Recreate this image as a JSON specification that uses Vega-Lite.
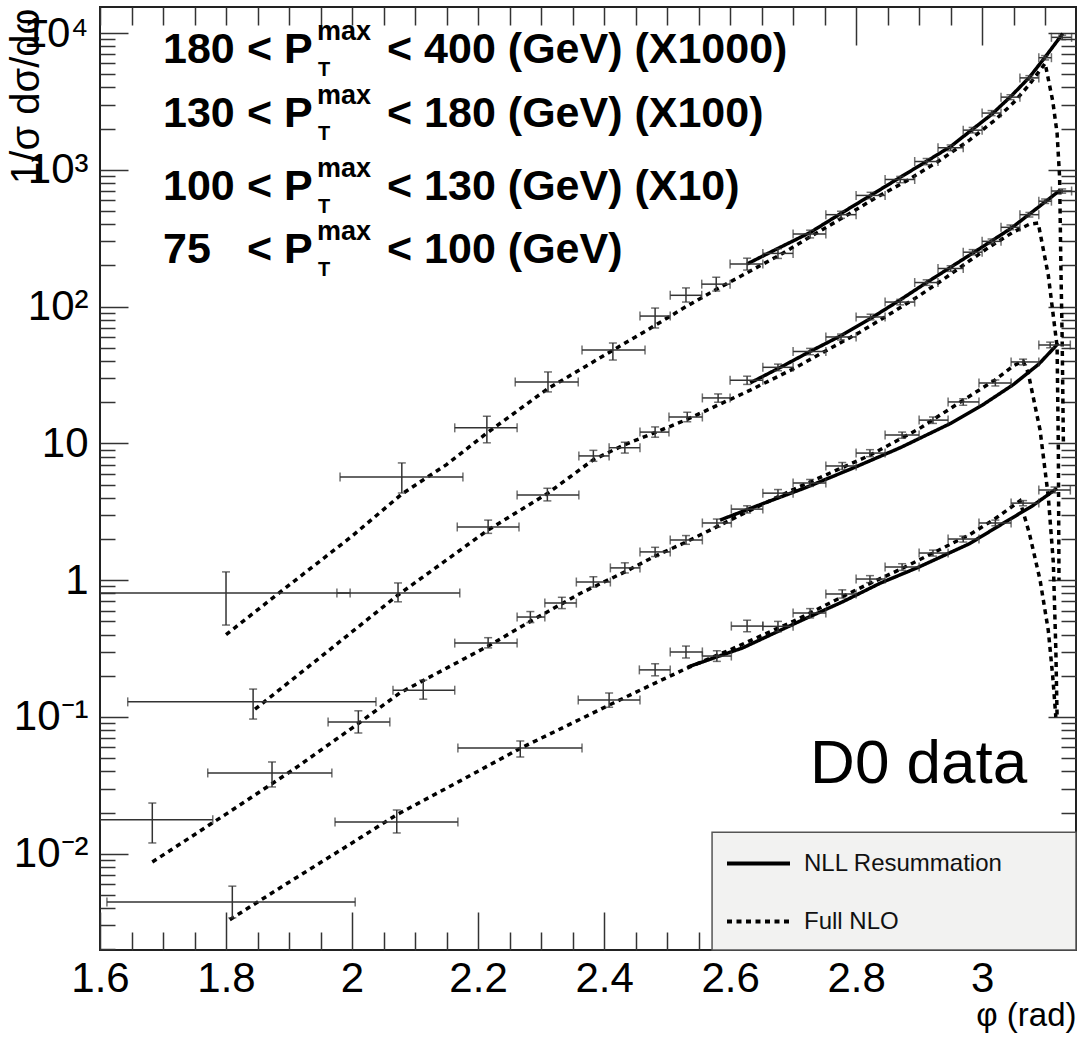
{
  "$schema": "https://vega.github.io/schema/vega-lite/v6.json",
  "width": 976,
  "height": 943,
  "autosize": {"type": "none"},
  "padding": {"left": 100, "top": 7, "right": 4, "bottom": 87},
  "background": "white",
  "config": {
    "view": {"stroke": "#222", "strokeWidth": 2},
    "font": "Liberation Sans",
    "axis": {"labelFont": "Liberation Sans", "titleFont": "Liberation Sans", "labelColor": "#000", "titleColor": "#000", "tickColor": "#333", "tickWidth": 1.5, "domain": false, "grid": false, "labelFlush": false, "labelOverlap": false, "labelBound": false}
  },
  "datasets": {
    "pts": [
      {"series":"A","phi":1.8,"value":0.805,"phiLo":1.6,"phiHi":1.997,"valueLo":0.47,"valueHi":1.15},
      {"series":"A","phi":2.079,"value":5.68,"phiLo":1.981,"phiHi":2.176,"valueLo":4.34,"valueHi":7.2},
      {"series":"A","phi":2.214,"value":13.0,"phiLo":2.163,"phiHi":2.262,"valueLo":10.1,"valueHi":15.8},
      {"series":"A","phi":2.311,"value":28.1,"phiLo":2.259,"phiHi":2.359,"valueLo":23.8,"valueHi":33.3},
      {"series":"A","phi":2.414,"value":48.2,"phiLo":2.365,"phiHi":2.465,"valueLo":40.7,"valueHi":54.2},
      {"series":"A","phi":2.481,"value":85.3,"phiLo":2.457,"phiHi":2.505,"valueLo":69.8,"valueHi":97.6},
      {"series":"A","phi":2.53,"value":121,"phiLo":2.505,"phiHi":2.555,"valueLo":108,"valueHi":137},
      {"series":"A","phi":2.578,"value":146,"phiLo":2.555,"phiHi":2.6,"valueLo":130,"valueHi":164},
      {"series":"A","phi":2.627,"value":205,"phiLo":2.6,"phiHi":2.652,"valueLo":185,"valueHi":226},
      {"series":"A","phi":2.676,"value":245,"phiLo":2.652,"phiHi":2.7,"valueLo":225,"valueHi":265},
      {"series":"A","phi":2.727,"value":340,"phiLo":2.7,"phiHi":2.752,"valueLo":318,"valueHi":362},
      {"series":"A","phi":2.776,"value":470,"phiLo":2.752,"phiHi":2.8,"valueLo":442,"valueHi":498},
      {"series":"A","phi":2.823,"value":650,"phiLo":2.8,"phiHi":2.846,"valueLo":615,"valueHi":685},
      {"series":"A","phi":2.87,"value":850,"phiLo":2.846,"phiHi":2.893,"valueLo":805,"valueHi":895},
      {"series":"A","phi":2.912,"value":1150,"phiLo":2.893,"phiHi":2.93,"valueLo":1090,"valueHi":1210},
      {"series":"A","phi":2.95,"value":1450,"phiLo":2.93,"phiHi":2.97,"valueLo":1380,"valueHi":1520},
      {"series":"A","phi":2.985,"value":1950,"phiLo":2.97,"phiHi":3.0,"valueLo":1860,"valueHi":2040},
      {"series":"A","phi":3.015,"value":2600,"phiLo":3.0,"phiHi":3.03,"valueLo":2490,"valueHi":2710},
      {"series":"A","phi":3.045,"value":3400,"phiLo":3.03,"phiHi":3.06,"valueLo":3260,"valueHi":3540},
      {"series":"A","phi":3.075,"value":4700,"phiLo":3.06,"phiHi":3.09,"valueLo":4520,"valueHi":4880},
      {"series":"A","phi":3.1,"value":6600,"phiLo":3.09,"phiHi":3.11,"valueLo":6360,"valueHi":6840},
      {"series":"A","phi":3.127,"value":9300,"phiLo":3.11,"phiHi":3.142,"valueLo":8950,"valueHi":9650},
      {"series":"B","phi":1.843,"value":0.129,"phiLo":1.644,"phiHi":2.038,"valueLo":0.0966,"valueHi":0.16},
      {"series":"B","phi":2.073,"value":0.805,"phiLo":1.976,"phiHi":2.171,"valueLo":0.695,"valueHi":0.955},
      {"series":"B","phi":2.216,"value":2.45,"phiLo":2.167,"phiHi":2.265,"valueLo":2.2,"valueHi":2.75},
      {"series":"B","phi":2.31,"value":4.2,"phiLo":2.262,"phiHi":2.36,"valueLo":3.8,"valueHi":4.7},
      {"series":"B","phi":2.383,"value":8.1,"phiLo":2.36,"phiHi":2.408,"valueLo":7.4,"valueHi":8.9},
      {"series":"B","phi":2.433,"value":9.3,"phiLo":2.408,"phiHi":2.457,"valueLo":8.5,"valueHi":10.2},
      {"series":"B","phi":2.481,"value":12.1,"phiLo":2.457,"phiHi":2.503,"valueLo":11.1,"valueHi":13.2},
      {"series":"B","phi":2.532,"value":15.6,"phiLo":2.503,"phiHi":2.556,"valueLo":14.4,"valueHi":16.9},
      {"series":"B","phi":2.581,"value":21.5,"phiLo":2.556,"phiHi":2.6,"valueLo":20,"valueHi":23},
      {"series":"B","phi":2.627,"value":29,"phiLo":2.6,"phiHi":2.652,"valueLo":27,"valueHi":31},
      {"series":"B","phi":2.676,"value":36,"phiLo":2.652,"phiHi":2.7,"valueLo":34,"valueHi":38},
      {"series":"B","phi":2.727,"value":47,"phiLo":2.7,"phiHi":2.752,"valueLo":44.5,"valueHi":49.5},
      {"series":"B","phi":2.776,"value":60,"phiLo":2.752,"phiHi":2.8,"valueLo":57,"valueHi":63},
      {"series":"B","phi":2.823,"value":84,"phiLo":2.8,"phiHi":2.846,"valueLo":80,"valueHi":88},
      {"series":"B","phi":2.87,"value":108,"phiLo":2.846,"phiHi":2.893,"valueLo":103,"valueHi":113},
      {"series":"B","phi":2.912,"value":150,"phiLo":2.893,"phiHi":2.93,"valueLo":143,"valueHi":157},
      {"series":"B","phi":2.95,"value":190,"phiLo":2.93,"phiHi":2.97,"valueLo":181,"valueHi":199},
      {"series":"B","phi":2.985,"value":250,"phiLo":2.97,"phiHi":3.0,"valueLo":239,"valueHi":261},
      {"series":"B","phi":3.015,"value":300,"phiLo":3.0,"phiHi":3.03,"valueLo":288,"valueHi":312},
      {"series":"B","phi":3.045,"value":380,"phiLo":3.03,"phiHi":3.06,"valueLo":365,"valueHi":395},
      {"series":"B","phi":3.075,"value":470,"phiLo":3.06,"phiHi":3.09,"valueLo":452,"valueHi":488},
      {"series":"B","phi":3.1,"value":590,"phiLo":3.09,"phiHi":3.11,"valueLo":568,"valueHi":612},
      {"series":"B","phi":3.127,"value":700,"phiLo":3.11,"phiHi":3.142,"valueLo":675,"valueHi":725},
      {"series":"C","phi":1.683,"value":0.0177,"phiLo":1.6,"phiHi":1.779,"valueLo":0.012,"valueHi":0.0235},
      {"series":"C","phi":1.873,"value":0.039,"phiLo":1.771,"phiHi":1.968,"valueLo":0.0308,"valueHi":0.0469},
      {"series":"C","phi":2.01,"value":0.092,"phiLo":1.962,"phiHi":2.06,"valueLo":0.0764,"valueHi":0.111},
      {"series":"C","phi":2.113,"value":0.157,"phiLo":2.065,"phiHi":2.163,"valueLo":0.135,"valueHi":0.186},
      {"series":"C","phi":2.216,"value":0.347,"phiLo":2.163,"phiHi":2.262,"valueLo":0.32,"valueHi":0.38},
      {"series":"C","phi":2.283,"value":0.538,"phiLo":2.262,"phiHi":2.306,"valueLo":0.49,"valueHi":0.59},
      {"series":"C","phi":2.333,"value":0.68,"phiLo":2.306,"phiHi":2.356,"valueLo":0.62,"valueHi":0.75},
      {"series":"C","phi":2.383,"value":0.97,"phiLo":2.356,"phiHi":2.41,"valueLo":0.89,"valueHi":1.06},
      {"series":"C","phi":2.433,"value":1.23,"phiLo":2.41,"phiHi":2.457,"valueLo":1.13,"valueHi":1.34},
      {"series":"C","phi":2.481,"value":1.61,"phiLo":2.457,"phiHi":2.505,"valueLo":1.49,"valueHi":1.74},
      {"series":"C","phi":2.53,"value":1.97,"phiLo":2.505,"phiHi":2.556,"valueLo":1.83,"valueHi":2.12},
      {"series":"C","phi":2.579,"value":2.62,"phiLo":2.556,"phiHi":2.602,"valueLo":2.45,"valueHi":2.8},
      {"series":"C","phi":2.627,"value":3.31,"phiLo":2.602,"phiHi":2.652,"valueLo":3.1,"valueHi":3.5},
      {"series":"C","phi":2.676,"value":4.33,"phiLo":2.652,"phiHi":2.7,"valueLo":4.05,"valueHi":4.6},
      {"series":"C","phi":2.727,"value":5.14,"phiLo":2.7,"phiHi":2.752,"valueLo":4.85,"valueHi":5.45},
      {"series":"C","phi":2.778,"value":6.84,"phiLo":2.752,"phiHi":2.8,"valueLo":6.45,"valueHi":7.25},
      {"series":"C","phi":2.822,"value":8.5,"phiLo":2.8,"phiHi":2.846,"valueLo":8.0,"valueHi":9.0},
      {"series":"C","phi":2.873,"value":11.5,"phiLo":2.846,"phiHi":2.9,"valueLo":10.9,"valueHi":12.1},
      {"series":"C","phi":2.922,"value":14.8,"phiLo":2.9,"phiHi":2.946,"valueLo":14.0,"valueHi":15.6},
      {"series":"C","phi":2.97,"value":20.1,"phiLo":2.946,"phiHi":2.995,"valueLo":19,"valueHi":21.2},
      {"series":"C","phi":3.021,"value":27.7,"phiLo":2.995,"phiHi":3.046,"valueLo":26.3,"valueHi":29.1},
      {"series":"C","phi":3.065,"value":39.4,"phiLo":3.046,"phiHi":3.09,"valueLo":37.5,"valueHi":41.3},
      {"series":"C","phi":3.108,"value":52.4,"phiLo":3.09,"phiHi":3.14,"valueLo":50,"valueHi":55},
      {"series":"D","phi":1.81,"value":0.00445,"phiLo":1.611,"phiHi":2.005,"valueLo":0.0034,"valueHi":0.0058},
      {"series":"D","phi":2.071,"value":0.0171,"phiLo":1.973,"phiHi":2.168,"valueLo":0.0142,"valueHi":0.0209},
      {"series":"D","phi":2.267,"value":0.0593,"phiLo":2.168,"phiHi":2.365,"valueLo":0.051,"valueHi":0.0668},
      {"series":"D","phi":2.408,"value":0.133,"phiLo":2.359,"phiHi":2.457,"valueLo":0.118,"valueHi":0.15},
      {"series":"D","phi":2.481,"value":0.221,"phiLo":2.456,"phiHi":2.505,"valueLo":0.2,"valueHi":0.245},
      {"series":"D","phi":2.53,"value":0.299,"phiLo":2.505,"phiHi":2.556,"valueLo":0.27,"valueHi":0.33},
      {"series":"D","phi":2.579,"value":0.279,"phiLo":2.556,"phiHi":2.602,"valueLo":0.255,"valueHi":0.305},
      {"series":"D","phi":2.627,"value":0.462,"phiLo":2.602,"phiHi":2.652,"valueLo":0.42,"valueHi":0.51},
      {"series":"D","phi":2.676,"value":0.46,"phiLo":2.652,"phiHi":2.7,"valueLo":0.42,"valueHi":0.5},
      {"series":"D","phi":2.727,"value":0.575,"phiLo":2.7,"phiHi":2.752,"valueLo":0.53,"valueHi":0.62},
      {"series":"D","phi":2.778,"value":0.793,"phiLo":2.752,"phiHi":2.8,"valueLo":0.74,"valueHi":0.85},
      {"series":"D","phi":2.822,"value":1.02,"phiLo":2.8,"phiHi":2.846,"valueLo":0.96,"valueHi":1.08},
      {"series":"D","phi":2.873,"value":1.25,"phiLo":2.846,"phiHi":2.9,"valueLo":1.18,"valueHi":1.32},
      {"series":"D","phi":2.922,"value":1.58,"phiLo":2.9,"phiHi":2.946,"valueLo":1.5,"valueHi":1.66},
      {"series":"D","phi":2.97,"value":2.0,"phiLo":2.946,"phiHi":2.995,"valueLo":1.9,"valueHi":2.1},
      {"series":"D","phi":3.021,"value":2.62,"phiLo":2.995,"phiHi":3.046,"valueLo":2.5,"valueHi":2.75},
      {"series":"D","phi":3.065,"value":3.66,"phiLo":3.046,"phiHi":3.09,"valueLo":3.5,"valueHi":3.82},
      {"series":"D","phi":3.115,"value":4.56,"phiLo":3.09,"phiHi":3.14,"valueLo":4.35,"valueHi":4.8}
    ],
    "curves": [
      {"series":"A","model":"Full NLO","phi":1.8,"value":0.4},
      {"series":"A","model":"Full NLO","phi":1.9,"value":0.92},
      {"series":"A","model":"Full NLO","phi":2.0,"value":2.1},
      {"series":"A","model":"Full NLO","phi":2.08,"value":4.3},
      {"series":"A","model":"Full NLO","phi":2.15,"value":7.0},
      {"series":"A","model":"Full NLO","phi":2.214,"value":11.9},
      {"series":"A","model":"Full NLO","phi":2.31,"value":25},
      {"series":"A","model":"Full NLO","phi":2.414,"value":48},
      {"series":"A","model":"Full NLO","phi":2.47,"value":68},
      {"series":"A","model":"Full NLO","phi":2.53,"value":100},
      {"series":"A","model":"Full NLO","phi":2.58,"value":135},
      {"series":"A","model":"Full NLO","phi":2.63,"value":180},
      {"series":"A","model":"Full NLO","phi":2.68,"value":240},
      {"series":"A","model":"Full NLO","phi":2.73,"value":330},
      {"series":"A","model":"Full NLO","phi":2.78,"value":450},
      {"series":"A","model":"Full NLO","phi":2.83,"value":620},
      {"series":"A","model":"Full NLO","phi":2.88,"value":830},
      {"series":"A","model":"Full NLO","phi":2.93,"value":1150},
      {"series":"A","model":"Full NLO","phi":2.98,"value":1650},
      {"series":"A","model":"Full NLO","phi":3.02,"value":2300},
      {"series":"A","model":"Full NLO","phi":3.05,"value":3100},
      {"series":"A","model":"Full NLO","phi":3.075,"value":4200},
      {"series":"A","model":"Full NLO","phi":3.09,"value":5200},
      {"series":"A","model":"Full NLO","phi":3.1,"value":6000},
      {"series":"A","model":"Full NLO","phi":3.112,"value":3200},
      {"series":"A","model":"Full NLO","phi":3.119,"value":1850},
      {"series":"A","model":"Full NLO","phi":3.123,"value":880},
      {"series":"A","model":"Full NLO","phi":3.125,"value":200},
      {"series":"A","model":"Full NLO","phi":3.127,"value":60},
      {"series":"A","model":"Full NLO","phi":3.129,"value":10},
      {"series":"A","model":"NLL Resummation","phi":2.627,"value":205},
      {"series":"A","model":"NLL Resummation","phi":2.675,"value":265},
      {"series":"A","model":"NLL Resummation","phi":2.727,"value":348},
      {"series":"A","model":"NLL Resummation","phi":2.775,"value":477},
      {"series":"A","model":"NLL Resummation","phi":2.825,"value":658},
      {"series":"A","model":"NLL Resummation","phi":2.87,"value":881},
      {"series":"A","model":"NLL Resummation","phi":2.91,"value":1140},
      {"series":"A","model":"NLL Resummation","phi":2.95,"value":1480},
      {"series":"A","model":"NLL Resummation","phi":2.985,"value":1982},
      {"series":"A","model":"NLL Resummation","phi":3.015,"value":2540},
      {"series":"A","model":"NLL Resummation","phi":3.045,"value":3420},
      {"series":"A","model":"NLL Resummation","phi":3.075,"value":4740},
      {"series":"A","model":"NLL Resummation","phi":3.1,"value":6670},
      {"series":"A","model":"NLL Resummation","phi":3.128,"value":9900},
      {"series":"B","model":"Full NLO","phi":1.846,"value":0.114},
      {"series":"B","model":"Full NLO","phi":1.946,"value":0.265},
      {"series":"B","model":"Full NLO","phi":2.073,"value":0.78},
      {"series":"B","model":"Full NLO","phi":2.216,"value":2.33},
      {"series":"B","model":"Full NLO","phi":2.31,"value":4.3},
      {"series":"B","model":"Full NLO","phi":2.383,"value":7.6},
      {"series":"B","model":"Full NLO","phi":2.433,"value":9.8},
      {"series":"B","model":"Full NLO","phi":2.481,"value":12},
      {"series":"B","model":"Full NLO","phi":2.532,"value":15},
      {"series":"B","model":"Full NLO","phi":2.58,"value":19},
      {"series":"B","model":"Full NLO","phi":2.632,"value":24.5},
      {"series":"B","model":"Full NLO","phi":2.7,"value":35},
      {"series":"B","model":"Full NLO","phi":2.75,"value":47},
      {"series":"B","model":"Full NLO","phi":2.806,"value":65},
      {"series":"B","model":"Full NLO","phi":2.86,"value":92},
      {"series":"B","model":"Full NLO","phi":2.9,"value":120},
      {"series":"B","model":"Full NLO","phi":2.94,"value":160},
      {"series":"B","model":"Full NLO","phi":2.976,"value":210},
      {"series":"B","model":"Full NLO","phi":3.01,"value":270},
      {"series":"B","model":"Full NLO","phi":3.049,"value":350},
      {"series":"B","model":"Full NLO","phi":3.075,"value":400},
      {"series":"B","model":"Full NLO","phi":3.089,"value":408},
      {"series":"B","model":"Full NLO","phi":3.105,"value":170},
      {"series":"B","model":"Full NLO","phi":3.119,"value":51},
      {"series":"B","model":"Full NLO","phi":3.121,"value":9},
      {"series":"B","model":"Full NLO","phi":3.122,"value":1},
      {"series":"B","model":"NLL Resummation","phi":2.632,"value":27.7},
      {"series":"B","model":"NLL Resummation","phi":2.68,"value":36},
      {"series":"B","model":"NLL Resummation","phi":2.725,"value":46.5},
      {"series":"B","model":"NLL Resummation","phi":2.775,"value":61},
      {"series":"B","model":"NLL Resummation","phi":2.825,"value":83},
      {"series":"B","model":"NLL Resummation","phi":2.87,"value":112},
      {"series":"B","model":"NLL Resummation","phi":2.91,"value":148},
      {"series":"B","model":"NLL Resummation","phi":2.95,"value":194},
      {"series":"B","model":"NLL Resummation","phi":2.985,"value":246},
      {"series":"B","model":"NLL Resummation","phi":3.015,"value":302},
      {"series":"B","model":"NLL Resummation","phi":3.045,"value":371},
      {"series":"B","model":"NLL Resummation","phi":3.075,"value":474},
      {"series":"B","model":"NLL Resummation","phi":3.1,"value":583},
      {"series":"B","model":"NLL Resummation","phi":3.124,"value":711},
      {"series":"C","model":"Full NLO","phi":1.683,"value":0.0087},
      {"series":"C","model":"Full NLO","phi":1.8,"value":0.0195},
      {"series":"C","model":"Full NLO","phi":1.906,"value":0.041},
      {"series":"C","model":"Full NLO","phi":2.0,"value":0.083},
      {"series":"C","model":"Full NLO","phi":2.076,"value":0.15},
      {"series":"C","model":"Full NLO","phi":2.216,"value":0.33},
      {"series":"C","model":"Full NLO","phi":2.283,"value":0.5},
      {"series":"C","model":"Full NLO","phi":2.362,"value":0.8},
      {"series":"C","model":"Full NLO","phi":2.433,"value":1.15},
      {"series":"C","model":"Full NLO","phi":2.481,"value":1.5},
      {"series":"C","model":"Full NLO","phi":2.53,"value":1.9},
      {"series":"C","model":"Full NLO","phi":2.6,"value":2.75},
      {"series":"C","model":"Full NLO","phi":2.7,"value":4.6},
      {"series":"C","model":"Full NLO","phi":2.822,"value":8.2},
      {"series":"C","model":"Full NLO","phi":2.9,"value":12.8},
      {"series":"C","model":"Full NLO","phi":2.97,"value":20.7},
      {"series":"C","model":"Full NLO","phi":3.02,"value":29},
      {"series":"C","model":"Full NLO","phi":3.05,"value":37},
      {"series":"C","model":"Full NLO","phi":3.065,"value":40},
      {"series":"C","model":"Full NLO","phi":3.073,"value":33},
      {"series":"C","model":"Full NLO","phi":3.092,"value":12.5},
      {"series":"C","model":"Full NLO","phi":3.105,"value":4.1},
      {"series":"C","model":"Full NLO","phi":3.113,"value":1.35},
      {"series":"C","model":"Full NLO","phi":3.117,"value":0.31},
      {"series":"C","model":"Full NLO","phi":3.119,"value":0.1},
      {"series":"C","model":"NLL Resummation","phi":2.584,"value":2.75},
      {"series":"C","model":"NLL Resummation","phi":2.65,"value":3.6},
      {"series":"C","model":"NLL Resummation","phi":2.72,"value":4.75},
      {"series":"C","model":"NLL Resummation","phi":2.795,"value":6.6},
      {"series":"C","model":"NLL Resummation","phi":2.87,"value":9.3},
      {"series":"C","model":"NLL Resummation","phi":2.95,"value":14},
      {"series":"C","model":"NLL Resummation","phi":3.0,"value":19},
      {"series":"C","model":"NLL Resummation","phi":3.05,"value":27},
      {"series":"C","model":"NLL Resummation","phi":3.09,"value":38},
      {"series":"C","model":"NLL Resummation","phi":3.121,"value":54},
      {"series":"D","model":"Full NLO","phi":1.806,"value":0.0033},
      {"series":"D","model":"Full NLO","phi":1.9,"value":0.0062},
      {"series":"D","model":"Full NLO","phi":2.0,"value":0.012},
      {"series":"D","model":"Full NLO","phi":2.071,"value":0.0193},
      {"series":"D","model":"Full NLO","phi":2.171,"value":0.034},
      {"series":"D","model":"Full NLO","phi":2.267,"value":0.059},
      {"series":"D","model":"Full NLO","phi":2.349,"value":0.09},
      {"series":"D","model":"Full NLO","phi":2.414,"value":0.126},
      {"series":"D","model":"Full NLO","phi":2.481,"value":0.177},
      {"series":"D","model":"Full NLO","phi":2.532,"value":0.228},
      {"series":"D","model":"Full NLO","phi":2.6,"value":0.31},
      {"series":"D","model":"Full NLO","phi":2.7,"value":0.5},
      {"series":"D","model":"Full NLO","phi":2.8,"value":0.85},
      {"series":"D","model":"Full NLO","phi":2.87,"value":1.2},
      {"series":"D","model":"Full NLO","phi":2.93,"value":1.65},
      {"series":"D","model":"Full NLO","phi":2.98,"value":2.15},
      {"series":"D","model":"Full NLO","phi":3.02,"value":2.8},
      {"series":"D","model":"Full NLO","phi":3.06,"value":3.8},
      {"series":"D","model":"Full NLO","phi":3.075,"value":2.2},
      {"series":"D","model":"Full NLO","phi":3.092,"value":1.0},
      {"series":"D","model":"Full NLO","phi":3.105,"value":0.43},
      {"series":"D","model":"Full NLO","phi":3.112,"value":0.2},
      {"series":"D","model":"Full NLO","phi":3.117,"value":0.1},
      {"series":"D","model":"NLL Resummation","phi":2.533,"value":0.232},
      {"series":"D","model":"NLL Resummation","phi":2.62,"value":0.32},
      {"series":"D","model":"NLL Resummation","phi":2.71,"value":0.5},
      {"series":"D","model":"NLL Resummation","phi":2.78,"value":0.7},
      {"series":"D","model":"NLL Resummation","phi":2.838,"value":0.95},
      {"series":"D","model":"NLL Resummation","phi":2.9,"value":1.25},
      {"series":"D","model":"NLL Resummation","phi":2.98,"value":1.85},
      {"series":"D","model":"NLL Resummation","phi":3.03,"value":2.55},
      {"series":"D","model":"NLL Resummation","phi":3.08,"value":3.5},
      {"series":"D","model":"NLL Resummation","phi":3.119,"value":4.7}
    ],
    "hdr": [
      {"low":"180","rest":"< 400 (GeV) (X1000)","base":6040},
      {"low":"130","rest":"< 180 (GeV) (X100)","base":2056},
      {"low":"100","rest":"< 130 (GeV) (X10)","base":601},
      {"low":"75","rest":"< 100 (GeV)","base":208}
    ]
  },
  "resolve": {"axis": {"x": "independent", "y": "independent"}},
  "layer": [
    {
      "data": {"name": "curves"},
      "mark": {"type": "line", "color": "black", "strokeWidth": 3.5, "clip": true, "strokeCap": "butt"},
      "encoding": {
        "x": {"field": "phi", "type": "quantitative",
          "scale": {"domain": [1.6, 3.149], "nice": false, "zero": false},
          "axis": {"orient": "bottom",
            "values": [1.6,1.65,1.7,1.75,1.8,1.85,1.9,1.95,2,2.05,2.1,2.15,2.2,2.25,2.3,2.35,2.4,2.45,2.5,2.55,2.6,2.65,2.7,2.75,2.8,2.85,2.9,2.95,3,3.05,3.1],
            "tickSize": {"condition": {"test": "indexof([1.6,1.8,2,2.2,2.4,2.6,2.8,3], datum.value) >= 0", "value": -38}, "value": -18},
            "labelExpr": "indexof([1.6,1.8,2,2.2,2.4,2.6,2.8,3], datum.value) >= 0 ? '' + datum.value : ''",
            "labelPadding": 46, "labelFontSize": 42, "labelBaseline": "top",
            "title": "φ (rad)", "titleFontSize": 33, "titleFontWeight": "normal",
            "titleAnchor": "end", "titleAlign": "right", "titleBaseline": "alphabetic", "titleX": 976, "titleY": 75}
        },
        "y": {"field": "value", "type": "quantitative",
          "scale": {"type": "log", "domain": [0.00198, 15500], "nice": false},
          "axis": {"orient": "left",
            "values": [0.002,0.003,0.004,0.005,0.006,0.007,0.008,0.009,0.01,0.02,0.03,0.04,0.05,0.06,0.07,0.08,0.09,0.1,0.2,0.3,0.4,0.5,0.6,0.7,0.8,0.9,1,2,3,4,5,6,7,8,9,10,20,30,40,50,60,70,80,90,100,200,300,400,500,600,700,800,900,1000,2000,3000,4000,5000,6000,7000,8000,9000,10000],
            "tickSize": {"condition": {"test": "indexof([0.01,0.1,1,10,100,1000,10000], datum.value) >= 0", "value": -28}, "value": -15},
            "labelExpr": "indexof([0.01,0.1,1,10,100,1000,10000], datum.value) < 0 ? '' : ['10⁻²','10⁻¹','1','10','10²','10³','10⁴'][indexof([0.01,0.1,1,10,100,1000,10000], datum.value)]",
            "labelPadding": 40, "labelFontSize": 42, "labelBaseline": "middle",
            "title": "1/σ dσ/dφ", "titleFontSize": 40, "titleFontWeight": "normal", "titleAngle": 270,
            "titleAnchor": "end", "titleAlign": "right", "titleBaseline": "alphabetic", "titleX": -62, "titleY": 1}
        },
        "detail": {"field": "series", "type": "nominal"},
        "strokeDash": {"field": "model", "type": "nominal",
          "scale": {"domain": ["NLL Resummation", "Full NLO"], "range": [[1, 0], [5, 4.5]]},
          "legend": {"title": null, "orient": "none", "legendX": 625, "legendY": 823, "symbolType": "stroke", "symbolSize": 3969, "symbolStrokeWidth": 4, "symbolStrokeColor": "black", "labelFont": "Liberation Sans", "labelFontSize": 24, "labelColor": "#111", "labelOffset": 12, "rowPadding": 12, "padding": 0, "labelLimit": 400}
        }
      }
    },
    {
      "data": {"name": "pts"},
      "mark": {"type": "errorbar", "ticks": true, "thickness": 1.5, "size": 9, "color": "#333", "clip": true},
      "encoding": {
        "x": {"field": "phiLo", "type": "quantitative", "axis": null},
        "x2": {"field": "phiHi"},
        "y": {"field": "value", "type": "quantitative", "axis": null}
      }
    },
    {
      "data": {"name": "pts"},
      "mark": {"type": "errorbar", "ticks": true, "thickness": 1.5, "size": 8, "color": "#333", "clip": true},
      "encoding": {
        "x": {"field": "phi", "type": "quantitative", "axis": null},
        "y": {"field": "valueLo", "type": "quantitative", "axis": null},
        "y2": {"field": "valueHi"}
      }
    },
    {
      "data": {"name": "hdr"},
      "mark": {"type": "text", "align": "left", "baseline": "alphabetic", "fontSize": 43, "fontWeight": "bold", "font": "Liberation Sans", "color": "black"},
      "encoding": {
        "x": {"datum": 1.7, "type": "quantitative", "axis": null},
        "y": {"field": "base", "type": "quantitative", "axis": null},
        "text": {"field": "low"}
      }
    },
    {
      "data": {"name": "hdr"},
      "mark": {"type": "text", "align": "left", "baseline": "alphabetic", "fontSize": 43, "fontWeight": "bold", "font": "Liberation Sans", "color": "black", "text": "< P"},
      "encoding": {
        "x": {"datum": 1.8333, "type": "quantitative", "axis": null},
        "y": {"field": "base", "type": "quantitative", "axis": null}
      }
    },
    {
      "data": {"name": "hdr"},
      "mark": {"type": "text", "align": "left", "baseline": "alphabetic", "fontSize": 27, "fontWeight": "bold", "font": "Liberation Sans", "color": "black", "text": "max", "dy": -23},
      "encoding": {
        "x": {"datum": 1.9444, "type": "quantitative", "axis": null},
        "y": {"field": "base", "type": "quantitative", "axis": null}
      }
    },
    {
      "data": {"name": "hdr"},
      "mark": {"type": "text", "align": "left", "baseline": "alphabetic", "fontSize": 20, "fontWeight": "bold", "font": "Liberation Sans", "color": "black", "text": "T", "dy": 13},
      "encoding": {
        "x": {"datum": 1.946, "type": "quantitative", "axis": null},
        "y": {"field": "base", "type": "quantitative", "axis": null}
      }
    },
    {
      "data": {"name": "hdr"},
      "mark": {"type": "text", "align": "left", "baseline": "alphabetic", "fontSize": 43, "fontWeight": "bold", "font": "Liberation Sans", "color": "black"},
      "encoding": {
        "x": {"datum": 2.0556, "type": "quantitative", "axis": null},
        "y": {"field": "base", "type": "quantitative", "axis": null},
        "text": {"field": "rest"}
      }
    },
    {
      "data": {"values": [{"label": "D0 data"}]},
      "mark": {"type": "text", "align": "left", "baseline": "alphabetic", "fontSize": 62, "font": "Liberation Sans", "color": "black"},
      "encoding": {
        "x": {"datum": 2.727, "type": "quantitative", "axis": null},
        "y": {"datum": 0.033, "type": "quantitative", "axis": null},
        "text": {"field": "label"}
      }
    },
    {
      "data": {"values": [{}]},
      "mark": {"type": "rect", "fill": "#f2f2f1", "stroke": "#555", "strokeWidth": 1.5},
      "encoding": {
        "x": {"datum": 2.5714, "type": "quantitative",
          "axis": {"orient": "top", "labels": false, "title": null,
            "values": [1.6,1.65,1.7,1.75,1.8,1.85,1.9,1.95,2,2.05,2.1,2.15,2.2,2.25,2.3,2.35,2.4,2.45,2.5,2.55,2.6,2.65,2.7,2.75,2.8,2.85,2.9,2.95,3,3.05,3.1],
            "tickSize": {"condition": {"test": "indexof([2.8,3], datum.value) >= 0", "value": -38}, "value": -18}}},
        "x2": {"datum": 3.149},
        "y": {"datum": 0.0144, "type": "quantitative",
          "axis": {"orient": "right", "labels": false, "title": null,
            "values": [0.002,0.003,0.004,0.005,0.006,0.007,0.008,0.009,0.01,0.02,0.03,0.04,0.05,0.06,0.07,0.08,0.09,0.1,0.2,0.3,0.4,0.5,0.6,0.7,0.8,0.9,1,2,3,4,5,6,7,8,9,10,20,30,40,50,60,70,80,90,100,200,300,400,500,600,700,800,900,1000,2000,3000,4000,5000,6000,7000,8000,9000,10000],
            "tickSize": {"condition": {"test": "indexof([0.01,0.1,1,10,100,1000,10000], datum.value) >= 0", "value": -28}, "value": -15}}},
        "y2": {"datum": 0.00198}
      }
    }
  ]
}
